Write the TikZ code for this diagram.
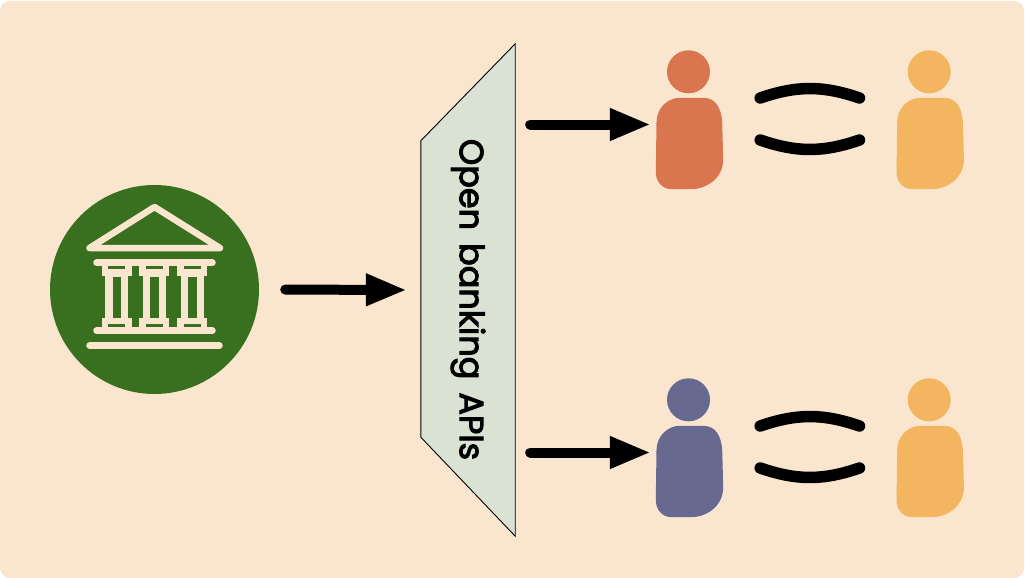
\documentclass[tikz,border=0pt]{standalone}
\usepackage{fontspec}
\setmainfont{Poppins}[FakeBold=3]
\usepackage{tikz}
\usetikzlibrary{arrows.meta, calc}
\definecolor{sand}{HTML}{FAE6CE}
\definecolor{bankgreen}{HTML}{38701F}
\definecolor{gatefill}{HTML}{D9E2D3}
\definecolor{clay}{HTML}{D97650}
\definecolor{amber}{HTML}{F4B561}
\definecolor{slate}{HTML}{676990}
\tikzset {
    flow/.style={line width=10pt, line cap=round, -{Triangle[length=41pt, width=30pt]}},
    link/.style={line width=11.5pt, line cap=round},
    icon/.style={line width=6.5pt, line cap=round, line join=round, draw=sand}
}

% head and body of one person, body centre at (#2,#3)
\newcommand{\person}[4]{
  \node[minimum width=67pt, minimum height=91pt, inner sep=0pt] (#1) at (#2,#3) {};
  \node[circle, fill=#4, minimum size=43pt, inner sep=0pt] (#1-head) at ($(#1.north)+(-1pt,26pt)$) {};
  \fill[#4] ($(#1.north west)+(0.7pt,-24pt)$)
    .. controls +(0.3pt,14pt) and +(-12pt,0pt) .. ($(#1.north west)+(24pt,0pt)$)
    -- ($(#1.north east)+(-20pt,0pt)$)
    .. controls +(13pt,0pt) and +(-1pt,13pt) .. ($(#1.north east)+(-1pt,-24pt)$)
    -- ($(#1.south east)+(0pt,30pt)$)
    .. controls +(0pt,-20pt) and +(14pt,0pt) .. ($(#1.south east)+(-32pt,0pt)$)
    -- ($(#1.south west)+(16pt,0pt)$)
    .. controls +(-10pt,0pt) and +(0pt,-9pt) .. ($(#1.south west)+(0pt,17pt)$)
    -- cycle;
  \coordinate (#1-in) at ($(#1.west)+(0pt,19pt)$);
}

% pair of curved strokes between two people
\newcommand{\friends}[2]{
  \draw[link] ($(#1.east)+(37pt,45.5pt)$) to[bend left=19] ($(#2.west)+(-37pt,45.5pt)$);
  \draw[link] ($(#1.east)+(37pt,3.5pt)$) to[bend right=19] ($(#2.west)+(-37pt,3.5pt)$);
}

\begin{document}
\begin{tikzpicture}[x=1pt, y=-1pt]
\useasboundingbox (0,0) rectangle (1025,578);
\fill[sand, rounded corners=10pt] (0,1) rectangle (1024,578);

% bank
\node[circle, fill=bankgreen, minimum size=209pt, inner sep=0pt] (bank) at (154.5,289.5) {};
\draw[icon] (154.5,207) -- (220,248) -- (89.5,248) -- cycle;
\draw[icon] (96.5,262.7) -- (212.5,262.7);
\draw[icon] (96.5,330.7) -- (212.5,330.7);
\draw[icon] (89.5,345.7) -- (219.5,345.7);
\foreach \c in {116.7,154.3,192.3} {
  \fill[sand] (\c-15,265) rectangle (\c+15,276);
  \fill[sand] (\c-15,318) rectangle (\c+15,328);
  \fill[sand] (\c-11.3,276) rectangle (\c+11.3,318);
  \fill[bankgreen] (\c-4.2,276.5) rectangle (\c+4.2,317.7);
  \fill[bankgreen] (\c-8.3,266.3) rectangle (\c+8.3,269);
  \fill[bankgreen] (\c-8.3,324.3) rectangle (\c+8.3,327);
}

% open banking gate
\node[minimum width=94pt, minimum height=492pt, inner sep=0pt] (gate) at (468,290) {};
\draw[fill=gatefill, line width=0.9pt] (gate.north east) -- (gate.south east)
  -- ($(gate.south west)+(0pt,99pt)$) -- ($(gate.north west)+(0pt,-97pt)$) -- cycle;
\node[rotate=-90, font=\fontsize{33.5pt}{33.5pt}\selectfont, inner sep=0pt] (gatetext) at (468,299.5) {\spaceskip=13pt Open banking APIs};

% people
\person{red}{689.5}{143.5}{clay}
\person{orangea}{930.2}{143.5}{amber}
\person{blue}{689.5}{471.5}{slate}
\person{orangeb}{930.2}{471.5}{amber}

\friends{red}{orangea}
\friends{blue}{orangeb}

% arrows
\draw[flow, shorten <=26pt, shorten >=14pt] (bank.east) -- (gate.west);
\draw[flow, shorten <=15pt, shorten >=5pt] (gate.east |- red-in) -- (red-in);
\draw[flow, shorten <=15pt, shorten >=5pt] (gate.east |- blue-in) -- (blue-in);

\end{tikzpicture}
\end{document}
